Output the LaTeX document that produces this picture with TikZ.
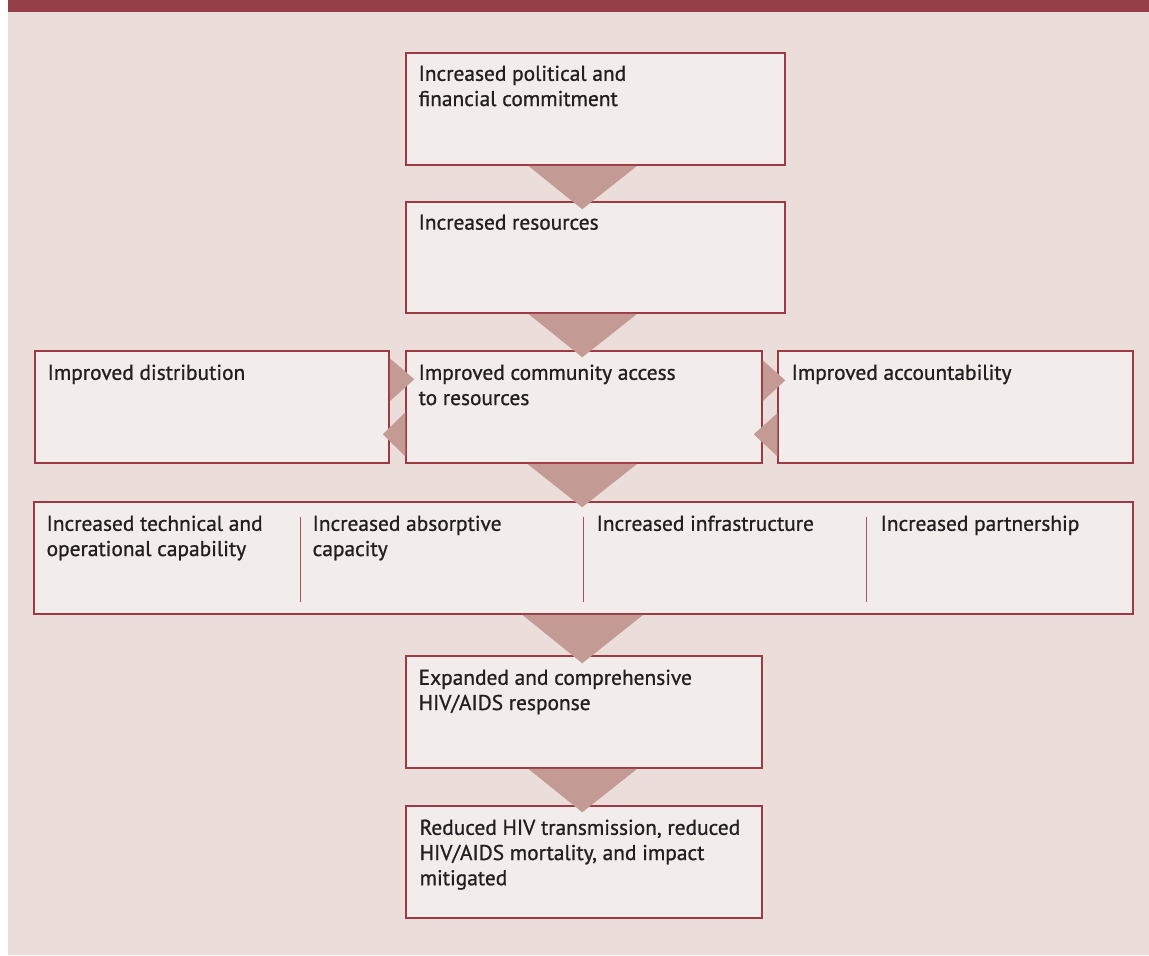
\documentclass[tikz,border=0pt]{standalone}
\usepackage{fontspec}
\setmainfont{PT Sans}
\newfontfamily\medfont{PT Sans}[RawFeature={embolden=0.9}]
\usetikzlibrary{calc,fit}
\definecolor{barc}{HTML}{943F48}
\definecolor{bgc}{HTML}{EADDDA}
\definecolor{boxc}{HTML}{F2EDEB}
\definecolor{bordc}{HTML}{9E3A45}
\definecolor{tric}{HTML}{C49A94}
\definecolor{divc}{HTML}{A0555C}
\definecolor{txtc}{HTML}{231F20}
\tikzset{
  box/.style={draw=bordc, fill=boxc, line width=0.75pt, inner sep=0pt},
  txt/.style={anchor=north west, inner sep=0pt, align=left, text=txtc,
    font={\medfont\fontsize{10.7}{12.6}\selectfont}},
  tri/.style={fill=tric},
  divline/.style={draw=divc, line width=0.6pt}
}
\begin{document}
\begin{tikzpicture}[x=0.5pt,y=-0.5pt]
\useasboundingbox (0,0) rectangle (1149,955);
\fill[white] (0,0) rectangle (1149,955);
\fill[bgc] (8,0) rectangle (1149,955);
\fill[barc] (8,0) rectangle (1149,12);
% boxes
\node[box, fit={(406,53) (785,165)}] (b1) {};
\node[box, fit={(406,202) (785,313)}] (b2) {};
\node[box, fit={(406,351) (762,463)}] (b3) {};
\node[box, fit={(35,351) (389,463)}] (bl) {};
\node[box, fit={(778,351) (1133,463)}] (br) {};
\node[box, fit={(34,502) (1133,614)}] (bw) {};
\node[box, fit={(406,656) (762,768)}] (b5) {};
\node[box, fit={(406,806) (762,918)}] (b6) {};
% dividers
\coordinate (d1t) at ($(bw.north west)+(267,16)$);
\coordinate (d2t) at ($(bw.north west)+(550,16)$);
\coordinate (d3t) at ($(bw.north west)+(833,16)$);
\draw[divline] (d1t) -- ++(0,85);
\draw[divline] (d2t) -- ++(0,85);
\draw[divline] (d3t) -- ++(0,85);
% texts
\node[txt] (t1) at ($(b1.north west)+(13,13)$) {Increased political and\\financial commitment};
\node[txt] (t2) at ($(b2.north west)+(13,13)$) {Increased resources};
\node[txt] (t3) at ($(b3.north west)+(13,14)$) {Improved community access\\to resources};
\node[txt] (tl) at ($(bl.north west)+(13,14)$) {Improved distribution};
\node[txt] (tr) at ($(br.north west)+(14,14)$) {Improved accountability};
\node[txt] (tw1) at ($(bw.north west)+(13,14)$) {Increased technical and\\operational capability};
\node[txt] (tw2) at ($(bw.north west)+(279,14)$) {Increased absorptive\\capacity};
\node[txt] (tw3) at ($(bw.north west)+(563,14)$) {Increased infrastructure};
\node[txt] (tw4) at ($(bw.north west)+(847,14)$) {Increased partnership};
\node[txt] (t5) at ($(b5.north west)+(13,14)$) {Expanded and comprehensive\\HIV/AIDS response};
\node[txt] (t6) at ($(b6.north west)+(14,14)$) {Reduced HIV transmission, reduced\\HIV/AIDS mortality, and impact\\mitigated};
% downward triangles
\fill[tri] ($(b1.south west)+(123,0)$) -- ($(b1.south west)+(232,0)$) -- ($(b2.north west)+(177,8)$) -- cycle;
\fill[tri] ($(b2.south west)+(123,0)$) -- ($(b2.south west)+(232,0)$) -- ($(b3.north west)+(177,7)$) -- cycle;
\fill[tri] ($(b3.south west)+(122,0)$) -- ($(b3.south west)+(232,0)$) -- ($(bw.north west)+(549,6)$) -- cycle;
\fill[tri] ($(bw.south west)+(489,0)$) -- ($(bw.south west)+(610,0)$) -- ($(b5.north west)+(177,8)$) -- cycle;
\fill[tri] ($(b5.south west)+(123,0)$) -- ($(b5.south west)+(232,0)$) -- ($(b6.north west)+(177,7)$) -- cycle;
% side triangles
\fill[tri] ($(bl.north east)+(0,8)$) -- ($(bl.north east)+(0,51)$) -- ($(b3.north west)+(9,29)$) -- cycle;
\fill[tri] ($(b3.north west)+(0,62)$) -- ($(b3.north west)+(0,106)$) -- ($(bl.north east)+(-7,84)$) -- cycle;
\fill[tri] ($(b3.north east)+(0,10)$) -- ($(b3.north east)+(0,51)$) -- ($(br.north west)+(8,30)$) -- cycle;
\fill[tri] ($(br.north west)+(0,63)$) -- ($(br.north west)+(0,106)$) -- ($(b3.north east)+(-9,84)$) -- cycle;
\end{tikzpicture}
\end{document}
